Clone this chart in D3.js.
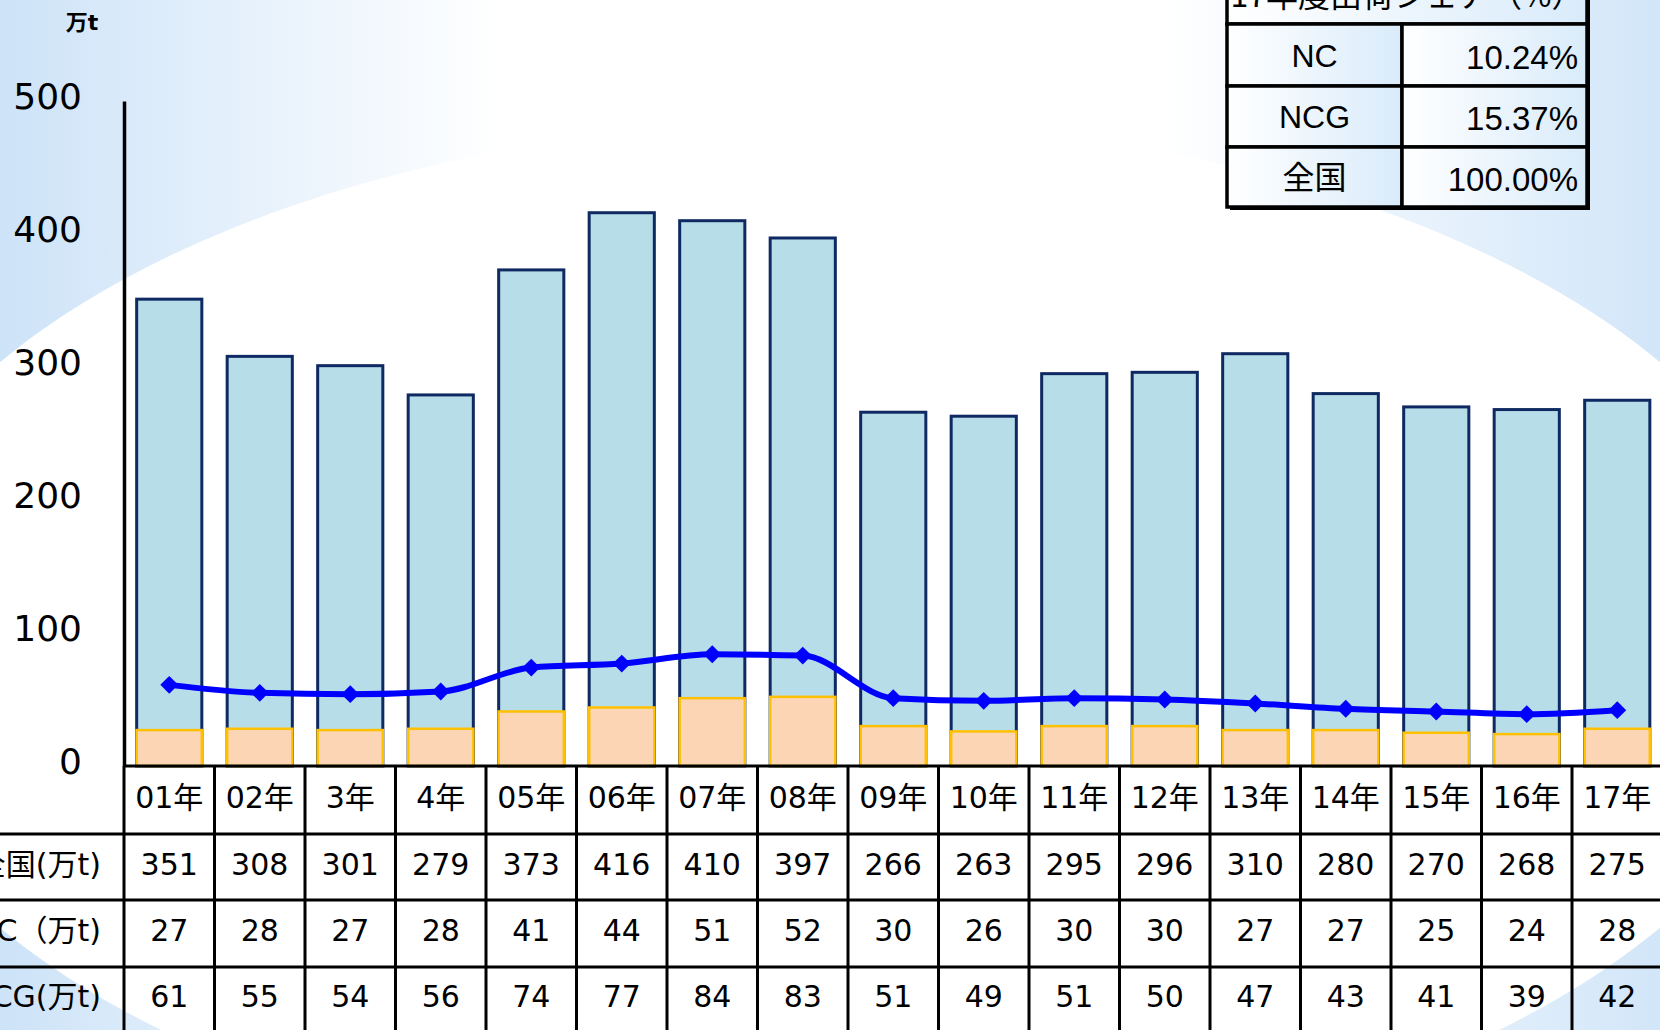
<!DOCTYPE html>
<html>
<head>
<meta charset="utf-8">
<script src="https://cdn.jsdelivr.net/npm/d3@7"></script>
<style>
  body { margin: 0; background: #fff; }
  svg { display: block; }
  text { font-family: "DejaVu Sans", "Noto Sans CJK JP", sans-serif; fill: #000; }
</style>
</head>
<body>
<svg id="chart"></svg>
<script>
// data
var years = ["01年","02年","3年","4年","05年","06年","07年","08年","09年","10年","11年","12年","13年","14年","15年","16年","17年"];
var totalValues = [351,308,301,279,373,416,410,397,266,263,295,296,310,280,270,268,275];
var ncValues = [27,28,27,28,41,44,51,52,30,26,30,30,27,27,25,24,28];
var ncgValues = [61,55,54,56,74,77,84,83,51,49,51,50,47,43,41,39,42];
var rowLabels = ["全国(万t)","NC（万t)","NCG(万t)"];
var yTicks = [0,100,200,300,400,500];
var shareTitle = "17年度出荷シェア（%）";
var shareLabels = ["NC","NCG","全国"];
var shareValues = ["10.24%","15.37%","100.00%"];

var width = 1660, height = 1030;
var svg = d3.select("#chart").attr("width", width).attr("height", height);
var defs = svg.append("defs");

var bg = defs.append("linearGradient").attr("id","bgGrad").attr("x1",0).attr("x2",1).attr("y1",0).attr("y2",0);
bg.append("stop").attr("offset","0").attr("stop-color","#cde3f8");
bg.append("stop").attr("offset","0.3").attr("stop-color","#ffffff");
bg.append("stop").attr("offset","0.7").attr("stop-color","#ffffff");
bg.append("stop").attr("offset","1").attr("stop-color","#d2e6f9");

var cellGrad = defs.append("linearGradient").attr("id","cellGrad").attr("x1",0).attr("x2",1).attr("y1",0).attr("y2",0);
cellGrad.append("stop").attr("offset","0").attr("stop-color","#ffffff");
cellGrad.append("stop").attr("offset","1").attr("stop-color","#d9ebfa");

// background
svg.append("rect").attr("width", width).attr("height", height).attr("fill","url(#bgGrad)");
svg.append("ellipse").attr("cx",830).attr("cy",645).attr("rx",986).attr("ry",524).attr("fill","#fff");

var plotLeft = 124, plotRight = 124 + 17*90.5, baseY = 766, topY = 101;

var x = d3.scaleBand().domain(years).range([plotLeft, plotRight]).paddingInner(0.28).paddingOuter(0.14);
var col = d3.scaleBand().domain(years).range([plotLeft, plotRight]);
var y = d3.scaleLinear().domain([0,500]).range([baseY, topY]);

// unit label
svg.append("text").attr("x",82).attr("y",30).attr("text-anchor","middle")
  .style("font-size","22px").style("font-weight","600").text("万t");

// bars: total
svg.append("g").selectAll("rect").data(totalValues).enter().append("rect")
  .attr("x", function(d,i){ return x(years[i]); })
  .attr("y", function(d){ return y(d); })
  .attr("width", x.bandwidth())
  .attr("height", function(d){ return baseY - y(d); })
  .attr("fill","#b7dde8").attr("stroke","#0f2a62").attr("stroke-width",3);

// bars: NC
svg.append("g").selectAll("rect").data(ncValues).enter().append("rect")
  .attr("x", function(d,i){ return x(years[i]); })
  .attr("y", function(d){ return y(d); })
  .attr("width", x.bandwidth())
  .attr("height", function(d){ return baseY - y(d); })
  .attr("fill","#fcd5b5").attr("stroke","#ffc000").attr("stroke-width",2.5);

// NCG line
var line = d3.line()
  .x(function(d,i){ return x(years[i]) + x.bandwidth()/2; })
  .y(function(d){ return y(d); })
  .curve(d3.curveMonotoneX);
svg.append("path").datum(ncgValues).attr("d", line)
  .attr("fill","none").attr("stroke","#0000ff").attr("stroke-width",6);
svg.append("g").selectAll("path").data(ncgValues).enter().append("path")
  .attr("d", d3.symbol(d3.symbolSquare, 160))
  .attr("transform", function(d,i){ return "translate(" + (x(years[i]) + x.bandwidth()/2) + "," + y(d) + ") rotate(45)"; })
  .attr("fill","#0000ff");

// y axis
var yAxis = d3.axisLeft(y).tickValues(yTicks).tickSize(0).tickSizeOuter(0).tickPadding(42);
var ya = svg.append("g").attr("transform","translate(" + plotLeft + ",0)").call(yAxis);
ya.select(".domain").attr("stroke","#000").attr("stroke-width",3.5);
ya.selectAll("text").style("font-size","36px").attr("dy","0.2em")
  .style("font-family","'DejaVu Sans', sans-serif").attr("fill","#000");

// data table under the chart
var rowY = [766, 834, 900, 967, 1040];
var grid = svg.append("g").attr("stroke","#000").attr("stroke-width",3);
grid.append("line").attr("x1", plotLeft).attr("x2", width).attr("y1", rowY[0]).attr("y2", rowY[0]);
rowY.slice(1,4).forEach(function(yy){
  grid.append("line").attr("x1", 0).attr("x2", width).attr("y1", yy).attr("y2", yy);
});
years.forEach(function(yr){
  grid.append("line").attr("x1", col(yr)).attr("x2", col(yr)).attr("y1", rowY[0]).attr("y2", height);
});
grid.append("line").attr("x1", plotRight).attr("x2", plotRight).attr("y1", rowY[0]).attr("y2", height);

var tbl = svg.append("g").style("font-size","30px").attr("text-anchor","middle");
years.forEach(function(yr){
  tbl.append("text").attr("x", col(yr) + col.bandwidth()/2).attr("y", (rowY[0]+rowY[1])/2 - 3)
    .attr("dy","0.36em").text(yr);
});
[totalValues, ncValues, ncgValues].forEach(function(vals, r){
  var cy = (rowY[r+1] + rowY[r+2]) / 2 - 3;
  if (r == 2) cy = (rowY[3] + 1025) / 2;
  vals.forEach(function(v,i){
    tbl.append("text").attr("x", col(years[i]) + col.bandwidth()/2).attr("y", cy)
      .attr("dy","0.36em").text(v);
  });
  tbl.append("text").attr("x", 101).attr("y", cy).attr("dy","0.36em")
    .attr("text-anchor","end").text(rowLabels[r]);
});

// share table, top right
var sx0 = 1227, sx1 = 1402, sx2 = 1587;
var sRows = [-38, 24, 86, 147, 207];
var share = svg.append("g");
share.append("rect").attr("x", sx0+3).attr("y", sRows[0]+3).attr("width", sx2-sx0).attr("height", sRows[4]-sRows[0]).attr("fill","#000");
share.append("rect").attr("x", sx0).attr("y", sRows[0]).attr("width", sx2-sx0).attr("height", sRows[1]-sRows[0])
  .attr("fill","url(#cellGrad)").attr("stroke","#000").attr("stroke-width",3.5);
share.append("text").attr("x",(sx0+sx2)/2).attr("y",-5).attr("dy","0.36em").attr("text-anchor","middle")
  .style("font-size","32px").style("font-family","'Noto Sans CJK JP', sans-serif").text(shareTitle);
shareLabels.forEach(function(lab,i){
  var y0 = sRows[i+1], y1 = sRows[i+2];
  share.append("rect").attr("x", sx0).attr("y", y0).attr("width", sx1-sx0).attr("height", y1-y0)
    .attr("fill","url(#cellGrad)").attr("stroke","#000").attr("stroke-width",3.5);
  share.append("rect").attr("x", sx1).attr("y", y0).attr("width", sx2-sx1).attr("height", y1-y0)
    .attr("fill","url(#cellGrad)").attr("stroke","#000").attr("stroke-width",3.5);
  share.append("text").attr("x",(sx0+sx1)/2).attr("y",(y0+y1)/2).attr("dy","0.36em").attr("text-anchor","middle")
    .style("font-size","32px").style("font-family","'Liberation Sans', 'Noto Sans CJK JP', sans-serif").text(lab);
  share.append("text").attr("x", sx2-9).attr("y",(y0+y1)/2 + 2).attr("dy","0.36em").attr("text-anchor","end")
    .style("font-size","33px").style("font-family","'Liberation Sans Narrow', 'Liberation Sans', sans-serif").text(shareValues[i]);
});
</script>
</body>
</html>
